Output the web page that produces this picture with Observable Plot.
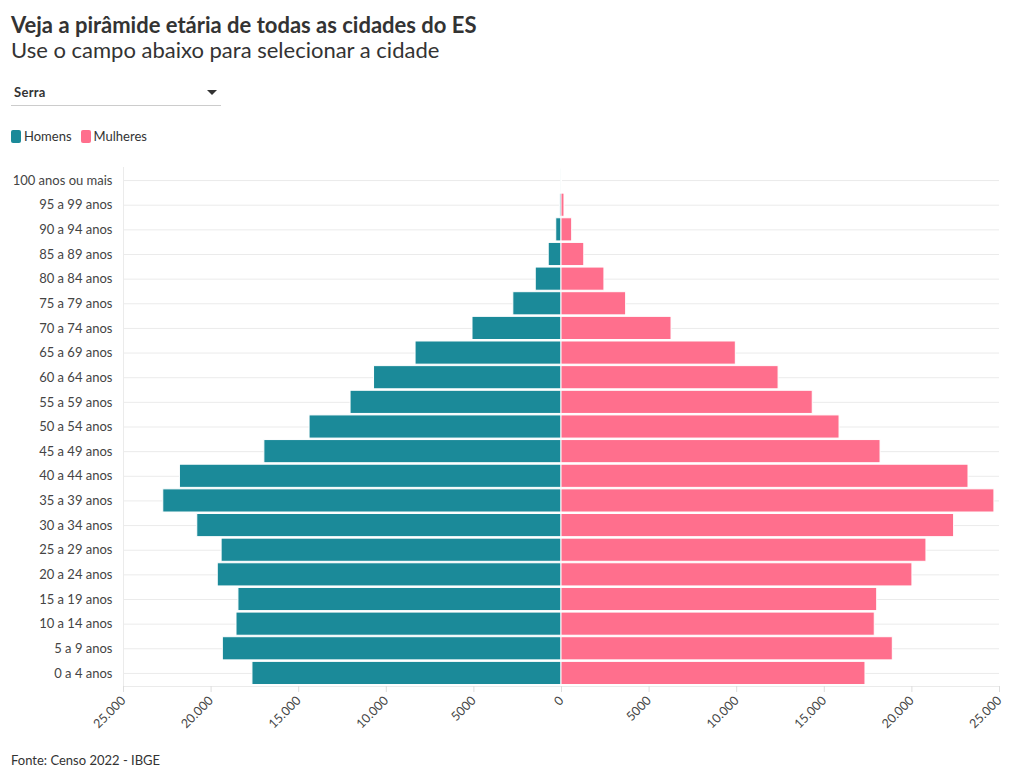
<!DOCTYPE html>
<html>
<head>
<meta charset="utf-8">
<script src="https://cdn.jsdelivr.net/npm/d3@7"></script>
<script src="https://cdn.jsdelivr.net/npm/@observablehq/plot@0.6"></script>
<style>
  body { margin: 0; background: #fff; font-family: Lato, "Noto Sans", sans-serif; color: #333; }
  #wrap { position: relative; width: 1020px; height: 779px; }
  .abs { position: absolute; white-space: nowrap; }
  #title { left: 11px; top: 10px; font-size: 22px; font-weight: 700; color: #333; line-height: 30px; }
  #subtitle { left: 11px; top: 35px; font-size: 22px; font-weight: 400; color: #333; line-height: 30px; }
  #dropdown { left: 11px; top: 82px; width: 210px; height: 23px; border-bottom: 1px solid #ccc; }
  #dropdown span { position: absolute; left: 3px; top: 2px; font-size: 13px; font-weight: 700; color: #333; letter-spacing: 0.3px; }
  #dropdown i { position: absolute; left: 196px; top: 8px; width: 0; height: 0; border-left: 5px solid transparent; border-right: 5px solid transparent; border-top: 5px solid #333; }
  #legend { left: 11px; top: 128px; font-size: 13px; color: #333; display: flex; align-items: center; }
  #legend .sw { display: inline-block; width: 10px; height: 13px; border-radius: 2px; margin-right: 3px; }
  #legend .item { display: flex; align-items: center; margin-right: 9px; }
  #chart { left: 0; top: 155px; }
  #caption { left: 11px; top: 752px; font-size: 13px; color: #333; }
  #chart svg { font-family: Lato, "Noto Sans", sans-serif; display: block; }
  g[aria-label="x-axis tick"] path { stroke: #ddd; }
</style>
</head>
<body>
<div id="wrap">
  <div id="title" class="abs">Veja a pirâmide etária de todas as cidades do ES</div>
  <div id="subtitle" class="abs">Use o campo abaixo para selecionar a cidade</div>
  <div id="dropdown" class="abs"><span>Serra</span><i></i></div>
  <div id="legend" class="abs"></div>
  <div id="chart" class="abs"></div>
  <div id="caption" class="abs">Fonte: Censo 2022 - IBGE</div>
</div>
<script>
const ages = ["0 a 4 anos", "5 a 9 anos", "10 a 14 anos", "15 a 19 anos", "20 a 24 anos", "25 a 29 anos", "30 a 34 anos", "35 a 39 anos", "40 a 44 anos", "45 a 49 anos", "50 a 54 anos", "55 a 59 anos", "60 a 64 anos", "65 a 69 anos", "70 a 74 anos", "75 a 79 anos", "80 a 84 anos", "85 a 89 anos", "90 a 94 anos", "95 a 99 anos", "100 anos ou mais"];
const homens = [17640, 19330, 18550, 18440, 19620, 19400, 20790, 22730, 21780, 16960, 14380, 12040, 10700, 8330, 5080, 2750, 1470, 730, 300, 90, 10];
const mulheres = [17350, 18910, 17880, 18020, 20030, 20830, 22410, 24710, 23230, 18210, 15870, 14340, 12390, 9950, 6280, 3690, 2450, 1300, 610, 170, 30];
const series = ["Homens", "Mulheres"];
const colors = ["#1b8a99", "#ff6f8d"];
const xTicks = [-25000, -20000, -15000, -10000, -5000, 0, 5000, 10000, 15000, 20000, 25000];

const data = [];
ages.forEach((a, i) => {
  data.push({age: a, sexo: series[0], valor: -homens[i]});
  data.push({age: a, sexo: series[1], valor: mulheres[i]});
});

const fmt = d => {
  const v = Math.abs(d);
  return v >= 10000 ? d3.format(",")(v).replace(/,/g, ".") : String(v);
};

const legend = document.getElementById("legend");
series.forEach((s, i) => {
  const it = document.createElement("div");
  it.className = "item";
  it.innerHTML = `<span class="sw" style="background:${colors[i]}"></span><span>${s}</span>`;
  legend.appendChild(it);
});

const chart = Plot.plot({
  width: 1020,
  height: 581,
  marginTop: 12,
  marginBottom: 50,
  marginLeft: 123,
  marginRight: 21,
  style: {fontSize: "12px", color: "#444"},
  x: {domain: [-25000, 25000], ticks: xTicks, tickFormat: fmt, label: null},
  y: {domain: ages.slice().reverse(), label: null, padding: 0.06, round: false},
  color: {domain: series, range: colors},
  marks: [
    Plot.gridY({stroke: "#ebebeb", strokeOpacity: 1}),
    Plot.ruleX([-25000], {stroke: "#ebebeb"}),
    Plot.frame({anchor: "bottom", stroke: "#ebebeb"}),
    Plot.barX(data, {x: "valor", y: "age", fill: "sexo", stroke: "#fff", strokeWidth: 1}),
    Plot.axisY({tickSize: 0, tickPadding: 11, fontSize: 13, fill: "#444"}),
    Plot.axisX({ticks: xTicks, tickFormat: fmt, tickRotate: -45, tickSize: 6, tickPadding: 6, fontSize: 12.5, fill: "#444", label: null})
  ]
});
document.getElementById("chart").appendChild(chart);
</script>
</body>
</html>
